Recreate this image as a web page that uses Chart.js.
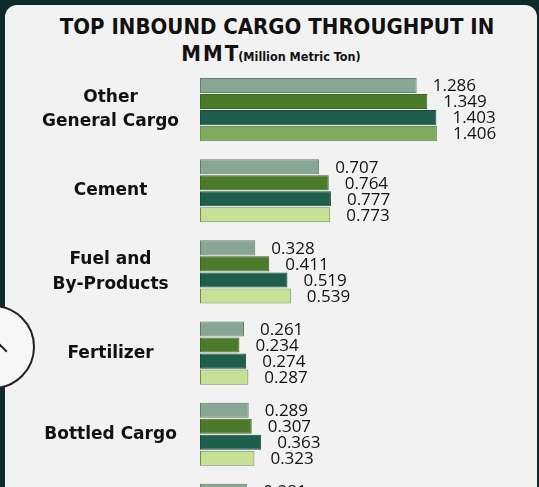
<!DOCTYPE html>
<html>
<head>
<meta charset="utf-8">
<script src="https://cdn.jsdelivr.net/npm/chart.js@4.4.1/dist/chart.umd.min.js"></script>
<style>
  html, body { margin: 0; padding: 0; width: 539px; height: 487px; overflow: hidden; background: #0d2b2a; }
  .card { position: absolute; left: 5px; top: 5px; width: 532px; height: 600px; background: #f2f2f2; border-radius: 12px; }
  .title { position: absolute; left: 5px; width: 532px; text-align: center; color: #111; font-family: 'DejaVu Sans Condensed', 'DejaVu Sans', sans-serif; font-weight: bold; white-space: nowrap; }
  .t1 { top: 14px; font-size: 22px; padding-left: 12px; box-sizing: border-box; }
  .t2 { top: 41px; font-size: 22px; }
  .t2 .big { letter-spacing: 2px; }
  .t2 small { font-size: 12.5px; letter-spacing: 0; }
  .chart-box { position: absolute; left: 12px; top: 69px; width: 525px; height: 487px; }
  .fab { position: absolute; left: -49px; top: 305px; width: 80px; height: 80px; border-radius: 50%; background: #f7f7f7; border: 2px solid #222; }
  .fab:after { content: ''; position: absolute; left: 40px; top: 38px; width: 10px; height: 10px; border-left: 2px solid #222; border-top: 2px solid #222; transform: rotate(45deg); }
</style>
</head>
<body>
<div class="card"></div>
<div class="title t1">TOP INBOUND CARGO THROUGHPUT IN</div>
<div class="title t2"><span class="big">MM</span>T<small>(Million Metric Ton)</small></div>
<div class="chart-box"><canvas id="cargoChart"></canvas></div>
<div class="fab"></div>
<script>
"use strict";

var categories = [['Other', 'General Cargo'], 'Cement', ['Fuel and', 'By-Products'], 'Fertilizer', 'Bottled Cargo', ''];
var seriesNames = ['2019', '2020', '2021', '2022'];
var series1 = [1.286, 0.707, 0.328, 0.261, 0.289, 0.281];
var series2 = [1.349, 0.764, 0.411, 0.234, 0.307, null];
var series3 = [1.403, 0.777, 0.519, 0.274, 0.363, null];
var series4 = [1.406, 0.773, 0.539, 0.287, 0.323, null];

(function() {
  var valueLabels = {
    id: 'valueLabels',
    afterDatasetsDraw: function(chart) {
      var ctx = chart.ctx;
      ctx.save();
      ctx.font = "17px 'Open Sans', sans-serif";
      ctx.fillStyle = '#111';
      ctx.textBaseline = 'middle';
      chart.data.datasets.forEach(function(ds, i) {
        chart.getDatasetMeta(i).data.forEach(function(bar, j) {
          var v = ds.data[j];
          if (v === null || v === undefined) return;
          ctx.fillText(v.toFixed(3), bar.x + 16, bar.y + 1);
        });
      });
      ctx.restore();
    }
  };

  var light4 = series4.map(function(v, i) { return i === 0 ? '#7eab60' : '#c6e096'; });

  var common = { borderWidth: 1, borderSkipped: false, barPercentage: 0.94, categoryPercentage: 0.79 };

  new Chart(document.getElementById('cargoChart'), {
    type: 'bar',
    data: {
      labels: categories,
      datasets: [
        Object.assign({ label: seriesNames[0], data: series1, backgroundColor: '#87a693', borderColor: '#5f7f6b' }, common),
        Object.assign({ label: seriesNames[1], data: series2, backgroundColor: '#4b7a2a', borderColor: '#3d6622' }, common),
        Object.assign({ label: seriesNames[2], data: series3, backgroundColor: '#1e5e4d', borderColor: '#174c3e' }, common),
        Object.assign({ label: seriesNames[3], data: series4, backgroundColor: light4, borderColor: '#6b8c55' }, common)
      ]
    },
    options: {
      indexAxis: 'y',
      responsive: true,
      maintainAspectRatio: false,
      animation: false,
      layout: { padding: 0 },
      plugins: { legend: { display: false }, tooltip: { enabled: false } },
      scales: {
        x: { display: false, min: 0, max: 2 },
        y: {
          grid: { display: false },
          border: { display: false },
          afterFit: function(scale) {
            scale.width = 188;
            scale.paddingTop = 0;
            scale.paddingBottom = 0;
          },
          ticks: {
            crossAlign: 'center',
            padding: 13,
            color: '#111',
            font: { family: "'DejaVu Sans', sans-serif", weight: 'bold', size: 17, lineHeight: 1.45 }
          }
        }
      }
    },
    plugins: [valueLabels]
  });
})();
</script>
</body>
</html>
